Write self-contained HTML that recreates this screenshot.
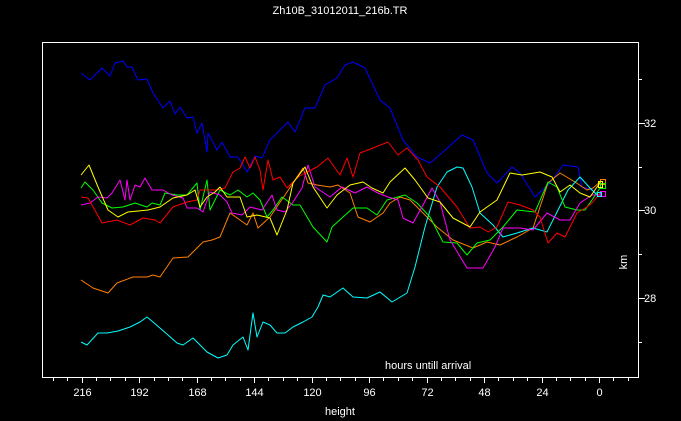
<!DOCTYPE html>
<html><head><meta charset="utf-8"><style>
html,body{margin:0;padding:0;background:#000;width:681px;height:421px;overflow:hidden}
svg{display:block}
text{font-family:"Liberation Sans",sans-serif;fill:#fff;font-size:11px}
polyline{fill:none;stroke-width:1;stroke-linejoin:round}
</style></head><body>
<svg width="681" height="421" viewBox="0 0 681 421" xmlns="http://www.w3.org/2000/svg">
<rect x="0" y="0" width="681" height="421" fill="#000"/>
<text x="340" y="14" text-anchor="middle">Zh10B_31012011_216b.TR</text>
<rect x="42.5" y="42.5" width="596" height="335" fill="none" stroke="#fff" stroke-width="1"/>
<g stroke="#fff" stroke-width="1" id="bt"></g>
<g stroke="#fff" stroke-width="1">
<line x1="638.5" y1="79.5" x2="642" y2="79.5"/><line x1="638.5" y1="123.5" x2="645" y2="123.5"/>
<line x1="638.5" y1="167.5" x2="642" y2="167.5"/><line x1="638.5" y1="210.5" x2="645" y2="210.5"/>
<line x1="638.5" y1="254.5" x2="642" y2="254.5"/><line x1="638.5" y1="298.5" x2="645" y2="298.5"/>
<line x1="638.5" y1="342.5" x2="642" y2="342.5"/>
</g>
<text x="644" y="127">32</text><text x="644" y="214">30</text><text x="644" y="302">28</text>
<text x="627" y="262" transform="rotate(-90 627 262)" text-anchor="middle">km</text>
<text x="385" y="369">hours untill arrival</text>
<text x="340" y="415" text-anchor="middle">height</text>
<g text-anchor="middle" id="bl"></g>

<polyline stroke="#0000ff" points="81,73 90,80 102,68 110,76 115,63 123,61 127,67 132,67 138,80 147,79 153,93 163,108 170,101 175,114 180,107 187,118 193,117 197,133 202,123 207,152 208,133 217,150 222,142 230,157 238,157 247,172 255,156 262,158 270,140 280,130 288,122 295,132 305,108 315,108 325,85 337,78 345,65 353,62 365,68 380,100 390,108 403,140 417,157 430,163 443,152 462,135 473,140 487,173 497,183 512,167 520,173 535,197 550,183 563,165 578,167 582,187 592,190 600,195"/>
<polyline stroke="#ff7f00" points="81,280 93,288 108,293 117,283 133,277 147,277 153,275 160,277 173,258 188,257 203,242 212,240 220,237 230,213 240,220 247,225 253,213 258,228 270,217 285,195 303,168 308,183 317,185 330,187 338,185 350,193 358,217 370,222 383,213 390,203 400,197 410,200 420,210 437,227 453,240 473,248 487,242 500,245 517,237 533,228 548,183 560,173 575,182 587,190 593,188 600,182"/>
<polyline stroke="#00ffff" points="81,342 87,345 98,333 107,333 118,331 130,327 140,322 147,317 153,322 168,335 177,343 183,345 193,338 207,352 218,358 227,355 233,345 243,337 248,350 253,313 257,337 263,322 270,325 277,333 285,333 293,327 303,322 312,317 318,307 323,295 330,297 343,288 353,297 367,298 380,292 392,302 407,293 415,267 425,227 437,187 447,172 457,167 463,168 472,187 480,213 493,225 503,237 517,233 533,228 547,232 558,210 568,190 580,177 590,188 597,195 600,195"/>
<polyline stroke="#00ff00" points="81,188 85,182 93,190 102,203 112,208 123,207 135,203 147,207 152,203 160,205 165,193 177,195 187,195 197,183 200,210 207,180 210,210 220,190 230,195 238,190 247,197 253,193 260,200 267,217 273,210 282,197 293,205 300,205 313,227 327,242 332,227 343,217 353,208 367,208 377,215 387,200 405,195 417,203 430,217 443,242 457,243 467,255 477,243 490,240 503,227 517,210 535,212 548,182 557,187 565,207 577,210 585,210 592,200 600,188"/>
<polyline stroke="#ff00ff" points="81,205 90,203 98,197 107,198 112,193 120,180 125,200 127,180 130,200 135,185 140,187 145,178 152,190 163,190 172,195 183,198 187,208 197,208 203,212 210,192 220,195 227,202 232,213 242,215 250,207 262,210 272,195 277,210 285,212 293,202 302,188 308,165 315,187 330,197 342,187 355,193 367,187 378,193 388,197 398,200 403,218 413,223 423,205 432,188 440,202 450,240 467,268 483,268 495,247 503,228 520,228 533,230 547,213 560,220 570,220 580,203 592,195 600,195"/>
<polyline stroke="#ff0000" points="81,197 88,198 102,223 117,220 130,225 143,218 155,220 160,223 173,207 187,202 197,200 200,190 217,190 225,188 233,172 240,168 245,157 250,168 255,157 260,170 263,190 268,160 273,180 280,177 287,188 298,177 307,172 317,167 328,158 340,175 347,158 353,177 360,153 373,148 388,142 398,155 407,148 418,160 427,177 440,187 457,207 470,228 480,227 488,232 497,227 508,202 520,205 533,210 540,217 548,243 557,233 565,237 577,213 587,207 593,202 600,193"/>
<polyline stroke="#ffff00" points="81,175 89,165 98,187 108,210 118,217 128,212 148,210 160,207 173,198 187,195 195,190 200,207 207,197 215,192 220,187 227,197 240,197 247,217 257,215 270,218 277,235 287,210 293,183 305,167 313,187 327,208 337,195 350,185 363,182 372,188 383,193 390,182 405,168 415,180 428,198 440,202 453,218 470,227 480,212 497,200 510,173 522,175 540,172 552,177 560,192 570,185 580,193 590,197 597,187 600,183"/>
<g fill="none" stroke-width="1">
<rect x="600.5" y="179.5" width="5" height="5" stroke="#ff7f00"/>
<rect x="600.5" y="183.5" width="5" height="5" stroke="#00ff00"/>
<rect x="598.5" y="181.5" width="4" height="6" stroke="#ffff00"/>
<rect x="600.5" y="191.5" width="5" height="5" stroke="#ff00ff"/>
<rect x="597.5" y="192.5" width="4" height="4" stroke="#00ffff"/>
</g>
</svg>
<script>
var ns="http://www.w3.org/2000/svg",bt=document.getElementById("bt"),bl=document.getElementById("bl");
for(var h=-12;h<=228;h+=6){var x=Math.round(599-2.395*h)+0.5;if(x<43||x>638)continue;
var l=document.createElementNS(ns,"line");l.setAttribute("x1",x);l.setAttribute("x2",x);l.setAttribute("y1",378);l.setAttribute("y2",h%24==0?383:381);bt.appendChild(l);
if(h%24==0&&h>=0&&h<=216){var t=document.createElementNS(ns,"text");t.setAttribute("x",x);t.setAttribute("y",396);t.textContent=h;bl.appendChild(t);}}
</script>
</body></html>
